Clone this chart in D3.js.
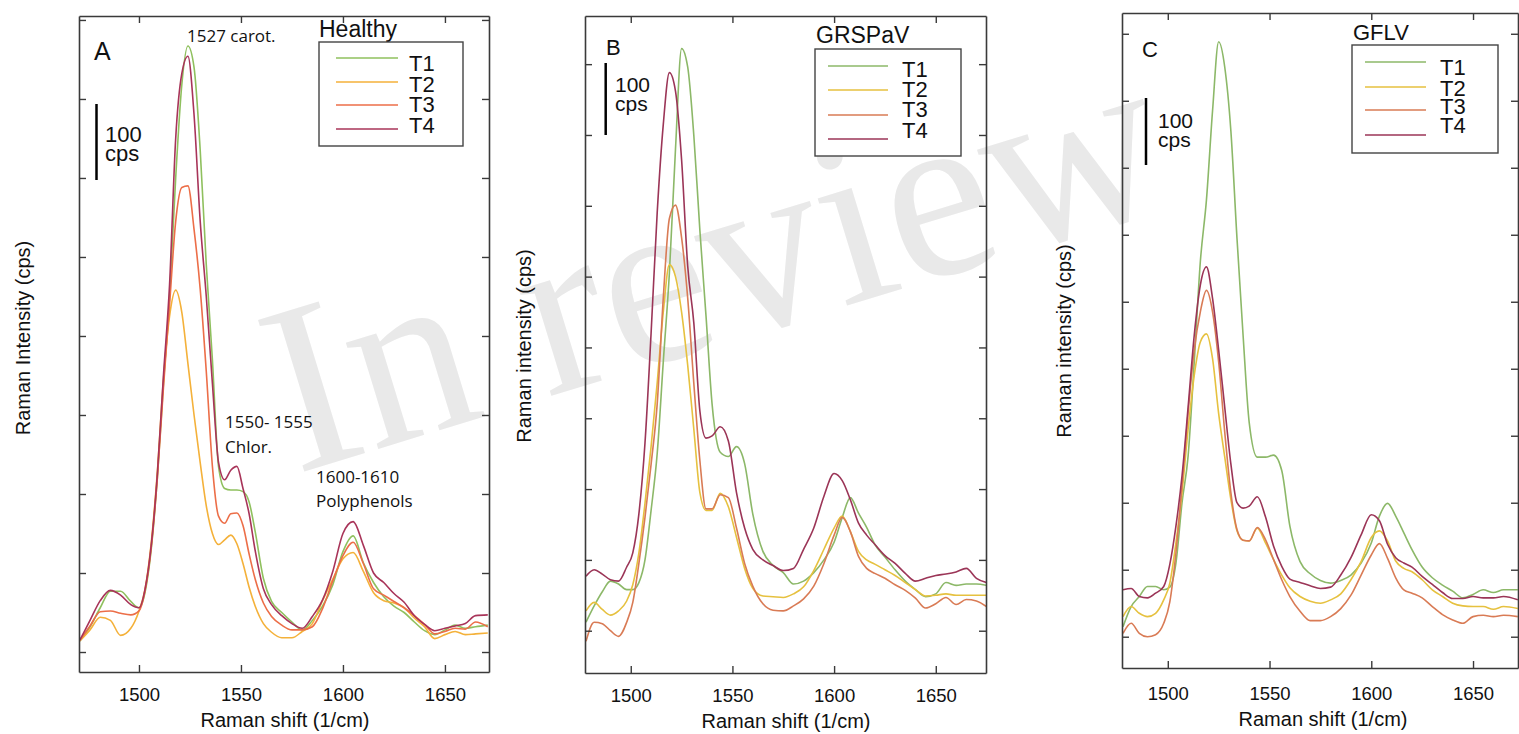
<!DOCTYPE html>
<html>
<head>
<meta charset="utf-8">
<script src="https://cdn.jsdelivr.net/npm/d3@7"></script>
<style>
    body { margin: 0; background: #fff; }
    svg text { font-family: "Liberation Sans", Arial, sans-serif; fill: #111; }
    .note { font-family: "Open Sans", sans-serif; }
</style>
</head>
<body>
<div id="wrapper"></div>
<script>
const treatments = ["T1", "T2", "T3", "T4"];
const xTicks = [1500, 1550, 1600, 1650];

// panel A - healthy
const xA = [1471, 1476, 1481, 1486, 1491, 1496, 1500, 1503, 1506, 1509, 1512, 1515, 1518, 1521, 1524, 1527, 1530, 1533, 1536, 1539, 1542, 1545, 1548, 1551, 1554, 1557, 1561, 1565, 1570, 1575, 1580, 1585, 1590, 1595, 1600, 1605, 1610, 1615, 1620, 1625, 1630, 1635, 1640, 1645, 1650, 1655, 1660, 1665, 1671];
const healthyT1 = [14, 32, 56, 77, 77, 64, 56, 76, 130, 220, 340, 450, 600, 718, 767, 740, 636, 490, 370, 235, 207, 205, 205, 203, 190, 152, 93, 64, 50, 38, 28, 40, 58, 85, 127, 147, 113, 88, 70, 58, 50, 38, 27, 22, 28, 34, 30, 32, 34];
const healthyT2 = [14, 28, 44, 40, 21, 30, 52, 80, 138, 228, 345, 425, 458, 430, 365, 300, 240, 185, 150, 136, 142, 148, 137, 112, 82, 58, 36, 25, 18, 18, 26, 36, 65, 92, 118, 126, 102, 75, 65, 62, 56, 43, 32, 17, 22, 26, 22, 23, 24];
const healthyT3 = [15, 33, 51, 52, 49, 47, 52, 78, 132, 220, 335, 440, 545, 588, 590, 535, 460, 355, 235, 172, 163, 175, 176, 160, 124, 92, 62, 45, 34, 28, 28, 32, 55, 90, 122, 139, 112, 80, 72, 64, 56, 46, 35, 23, 26, 30, 29, 38, 32];
const healthyT4 = [15, 40, 65, 78, 72, 60, 56, 80, 135, 225, 350, 465, 650, 732, 754, 680, 546, 450, 340, 240, 218, 230, 235, 207, 175, 128, 80, 60, 46, 36, 30, 45, 66, 102, 150, 165, 135, 100, 88, 74, 63, 46, 35, 27, 30, 33, 36, 46, 47];

// panel B - GRSPaV
const xB = [1478, 1482, 1486, 1490, 1494, 1498, 1501, 1504, 1507, 1510, 1513, 1516, 1519, 1522, 1525, 1528, 1531, 1534, 1537, 1540, 1544, 1548, 1552, 1556, 1560, 1565, 1570, 1575, 1580, 1585, 1590, 1595, 1600, 1604, 1608, 1612, 1616, 1620, 1625, 1630, 1635, 1640, 1645, 1650, 1655, 1660, 1665, 1670, 1675];
const grspavT1 = [12, 35, 55, 70, 66, 58, 58, 68, 100, 170, 250, 380, 505, 680, 822, 796, 700, 565, 445, 320, 252, 246, 260, 236, 165, 112, 92, 82, 66, 70, 82, 100, 125, 160, 188, 166, 146, 122, 104, 86, 70, 58, 48, 52, 68, 64, 66, 66, 64];
const grspavT2 = [28, 40, 30, 22, 28, 42, 65, 110, 180, 260, 350, 450, 517, 500, 450, 375, 285, 195, 170, 170, 194, 175, 132, 88, 60, 49, 48, 47, 52, 62, 85, 115, 145, 162, 140, 112, 100, 94, 86, 78, 68, 58, 49, 50, 52, 50, 50, 50, 50];
const grspavT3 = [-15, 12, 10, 0, -8, 12, 40, 95, 160, 235, 320, 470, 582, 601, 555, 470, 350, 240, 172, 172, 192, 188, 145, 95, 63, 38, 29, 28, 35, 45, 63, 95, 135, 160, 140, 105, 88, 81, 74, 65, 57, 46, 32, 38, 47, 37, 44, 42, 34];
const grspavT4 = [77, 86, 80, 72, 70, 90, 110, 165, 265, 420, 590, 715, 788, 762, 665, 515, 435, 310, 272, 275, 288, 268, 195, 145, 115, 100, 92, 85, 88, 115, 145, 190, 222, 212, 185, 152, 135, 122, 106, 95, 81, 70, 74, 78, 80, 83, 88, 74, 68];

// panel C - GFLV
const xC = [1478, 1482, 1486, 1490, 1494, 1498, 1501, 1504, 1507, 1510, 1513, 1516, 1519, 1522, 1525, 1528, 1531, 1534, 1537, 1540, 1544, 1548, 1552, 1556, 1560, 1565, 1570, 1575, 1580, 1585, 1590, 1595, 1600, 1604, 1608, 1612, 1616, 1620, 1625, 1630, 1635, 1640, 1645, 1650, 1655, 1660, 1665, 1672];
const gflvT1 = [15, 45, 60, 75, 75, 70, 74, 110, 200, 270, 410, 560, 652, 785, 888, 850, 755, 595, 450, 320, 268, 268, 271, 248, 165, 112, 94, 84, 80, 84, 92, 110, 140, 180, 199, 180, 155, 130, 104, 88, 77, 68, 58, 63, 70, 66, 70, 70];
const gflvT2 = [30, 45, 35, 30, 35, 55, 80, 140, 215, 310, 390, 440, 452, 415, 333, 268, 205, 158, 144, 143, 162, 140, 115, 92, 73, 60, 53, 50, 55, 64, 85, 112, 148, 158, 143, 113, 102, 97, 85, 70, 60, 50, 46, 45, 45, 41, 45, 42];
const gflvT3 = [5, 20, 5, 0, 3, 20, 52, 125, 225, 335, 428, 485, 517, 485, 410, 305, 215, 160, 144, 143, 163, 145, 115, 85, 60, 38, 24, 24, 30, 42, 62, 92, 122, 139, 117, 88, 70, 65, 58, 45, 33, 25, 20, 30, 32, 30, 32, 30];
const gflvT4 = [70, 72, 60, 58, 65, 75, 108, 165, 240, 343, 450, 525, 552, 505, 428, 342, 258, 200, 192, 195, 209, 179, 135, 105, 86, 81, 76, 72, 74, 92, 118, 152, 182, 173, 138, 118, 110, 104, 90, 78, 66, 57, 57, 60, 58, 58, 60, 55];

const colorsA = ["#8fc05e", "#f4b13a", "#ec6e48", "#a83459"];
const colorsBC = ["#8cb868", "#e6c13f", "#d97b55", "#9b3557"];

const dimensions = { width: 1519, height: 734 };

const panels = [
    {
        letter: "A", title: "Healthy", yLabel: "Raman Intensity (cps)",
        xs: xA, ys: [healthyT1, healthyT2, healthyT3, healthyT4], colors: colorsA,
        left: 79, right: 489, top: 16, bottom: 672,
        xDomain: [1470.6, 1671.6], yDomain: [-25.3, 805], yMax: 800, tickPad: 16,
        letterPos: [94, 60, 25],
        titlePos: [319, 37, 23],
        box: [319, 42, 144, 104], lineX: [336, 398], lineY: [58, 82, 105, 129],
        labelX: 409, labelY: [71, 92, 112, 133], labelSize: 22,
        bar: [96.5, 104, 180], barText: [105, 142, 161, 22],
        yLabelPos: [30, 338], xLabelPos: [285, 727],
    },
    {
        letter: "B", title: "GRSPaV", yLabel: "Raman intensity (cps)",
        xs: xB, ys: [grspavT1, grspavT2, grspavT3, grspavT4], colors: colorsBC,
        left: 585, right: 986, top: 16, bottom: 673,
        xDomain: [1477.5, 1674.7], yDomain: [-59.7, 868], yMax: 800, tickPad: 16,
        letterPos: [606, 55, 22],
        titlePos: [816, 43, 23],
        box: [815, 49, 146, 107], lineX: [828, 888], lineY: [66, 90, 115, 139],
        labelX: 902, labelY: [77, 97, 117, 138], labelSize: 22,
        bar: [605.7, 63, 135], barText: [615, 92, 111, 21],
        yLabelPos: [531, 346], xLabelPos: [786, 728],
    },
    {
        letter: "C", title: "GFLV", yLabel: "Raman intensity (cps)",
        xs: xC, ys: [gflvT1, gflvT2, gflvT3, gflvT4], colors: colorsBC,
        left: 1122, right: 1518, top: 13, bottom: 668,
        xDomain: [1477.5, 1672.1], yDomain: [-46.7, 931], yMax: 900, tickPad: 19,
        letterPos: [1142, 57, 22],
        titlePos: [1353, 40, 22],
        box: [1352, 45, 146, 108], lineX: [1365, 1426], lineY: [62, 87, 110, 135],
        labelX: 1440, labelY: [75, 96, 114, 133], labelSize: 22,
        bar: [1146, 98, 165], barText: [1158, 128, 147, 21],
        yLabelPos: [1071, 341], xLabelPos: [1323, 726],
    },
];

const notes = [
    { text: "1527 carot.", x: 187, y: 42 },
    { text: "1550- 1555", x: 225, y: 428 },
    { text: "Chlor.", x: 225, y: 453 },
    { text: "1600-1610", x: 316, y: 483 },
    { text: "Polyphenols", x: 316, y: 507 },
];

const wrapper = d3.select("#wrapper")
    .append("svg")
    .attr("width", dimensions.width)
    .attr("height", dimensions.height)
    .style("background", "#fff");

// "In review" stamp sits behind everything
wrapper.append("text")
    .attr("transform", "translate(296,474) rotate(-17)")
    .style("font-family", "'Liberation Serif', 'Times New Roman', serif")
    .style("font-size", "242px")
    .style("fill", "#e9e9e9")
    .text("In review");

panels.forEach((p, i) => {
    const xScale = d3.scaleLinear().domain(p.xDomain).range([p.left, p.right]);
    const yScale = d3.scaleLinear().domain(p.yDomain).range([p.bottom, p.top]);
    const yTicks = d3.range(0, p.yMax + 1, 100);

    const g = wrapper.append("g");

    g.append("clipPath")
        .attr("id", `clip-${i}`)
        .append("rect")
        .attr("x", p.left).attr("y", p.top)
        .attr("width", p.right - p.left).attr("height", p.bottom - p.top);

    const line = d3.line()
        .x(d => xScale(d[0]))
        .y(d => yScale(d[1]))
        .curve(d3.curveMonotoneX);

    g.append("g")
        .attr("clip-path", `url(#clip-${i})`)
        .selectAll("path")
        .data(p.ys)
        .join("path")
        .attr("d", ys => line(d3.zip(p.xs, ys)))
        .attr("fill", "none")
        .attr("stroke", (d, k) => p.colors[k])
        .attr("stroke-width", 1.6);

    // frame with inward ticks on all four sides
    const axes = [
        [d3.axisBottom(xScale).tickValues(xTicks).tickFormat(d3.format("d")).tickPadding(p.tickPad), `translate(0,${p.bottom})`],
        [d3.axisTop(xScale).tickValues(xTicks).tickFormat(""), `translate(0,${p.top})`],
        [d3.axisLeft(yScale).tickValues(yTicks).tickFormat(""), `translate(${p.left},0)`],
        [d3.axisRight(yScale).tickValues(yTicks).tickFormat(""), `translate(${p.right},0)`],
    ];
    axes.forEach(([axis, tr]) => {
        const a = g.append("g")
            .attr("transform", tr)
            .call(axis.tickSizeInner(-7).tickSizeOuter(0));
        a.select(".domain").attr("stroke", "#3a3a3a").attr("stroke-width", 1.6);
        a.selectAll(".tick line").attr("stroke", "#3a3a3a").attr("stroke-width", 1.4);
        a.selectAll(".tick text")
            .style("font-family", "'Liberation Sans', Arial, sans-serif")
            .style("font-size", "18.5px")
            .attr("fill", "#111");
    });

    g.append("text")
        .attr("x", p.xLabelPos[0]).attr("y", p.xLabelPos[1])
        .attr("text-anchor", "middle")
        .style("font-size", "20px")
        .text("Raman shift (1/cm)");

    g.append("text")
        .attr("transform", `translate(${p.yLabelPos[0]},${p.yLabelPos[1]}) rotate(-90)`)
        .attr("text-anchor", "middle")
        .style("font-size", "20px")
        .text(p.yLabel);

    g.append("text")
        .attr("x", p.letterPos[0]).attr("y", p.letterPos[1])
        .style("font-size", `${p.letterPos[2]}px`)
        .text(p.letter);

    // 100 cps scale bar
    g.append("line")
        .attr("x1", p.bar[0]).attr("x2", p.bar[0])
        .attr("y1", p.bar[1]).attr("y2", p.bar[2])
        .attr("stroke", "#000").attr("stroke-width", 2.5);
    g.append("text")
        .attr("x", p.barText[0]).attr("y", p.barText[1])
        .style("font-size", `${p.barText[3]}px`)
        .text("100");
    g.append("text")
        .attr("x", p.barText[0]).attr("y", p.barText[2])
        .style("font-size", `${p.barText[3]}px`)
        .text("cps");

    // legend
    g.append("text")
        .attr("x", p.titlePos[0]).attr("y", p.titlePos[1])
        .style("font-size", `${p.titlePos[2]}px`)
        .text(p.title);
    g.append("rect")
        .attr("x", p.box[0]).attr("y", p.box[1])
        .attr("width", p.box[2]).attr("height", p.box[3])
        .attr("fill", "#fff")
        .attr("stroke", "#444").attr("stroke-width", 1.4);
    treatments.forEach((t, k) => {
        g.append("line")
            .attr("x1", p.lineX[0]).attr("x2", p.lineX[1])
            .attr("y1", p.lineY[k]).attr("y2", p.lineY[k])
            .attr("stroke", p.colors[k]).attr("stroke-width", 1.6);
        g.append("text")
            .attr("x", p.labelX).attr("y", p.labelY[k])
            .style("font-size", `${p.labelSize}px`)
            .text(t);
    });
});

wrapper.selectAll(".note")
    .data(notes)
    .join("text")
    .attr("class", "note")
    .attr("x", d => d.x)
    .attr("y", d => d.y)
    .style("font-size", "17px")
    .text(d => d.text);
</script>
</body>
</html>
